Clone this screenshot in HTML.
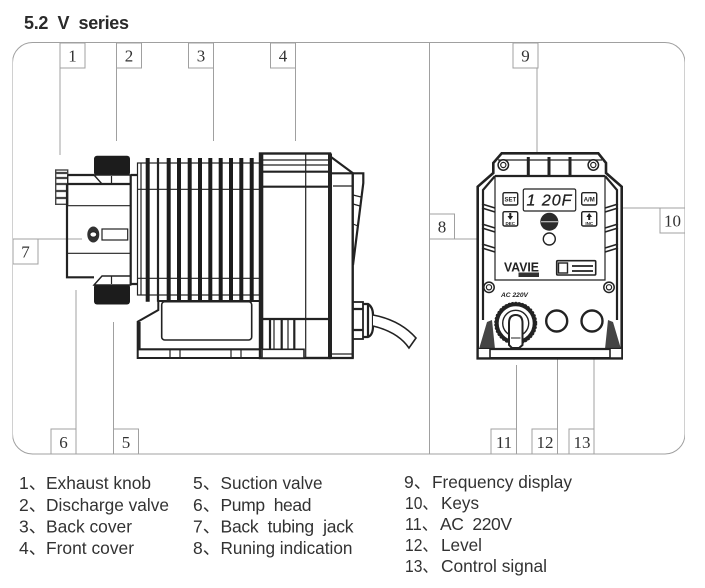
<!DOCTYPE html>
<html lang="en">
<head>
<meta charset="utf-8">
<title>5.2 V series</title>
<style>
html,body{margin:0;padding:0;background:#fff;width:705px;height:588px;overflow:hidden}
svg{display:block}
.lb{font-family:"Liberation Serif",serif;font-size:17px;fill:#333;text-anchor:middle}
.lg{font-family:"Liberation Sans","Noto Sans CJK SC",sans-serif;font-size:17.5px;fill:#333}
.box{fill:#fff;stroke:#a0a0a0;stroke-width:1}
.ld{stroke:#a0a0a0;stroke-width:1;fill:none}
.k{fill:none;stroke:#222;stroke-width:1.2}
.t{fill:none;stroke:#222;stroke-width:2.2}
.b{fill:none;stroke:#1c1c1c;stroke-width:4}
</style>
</head>
<body>
<svg width="705" height="588" viewBox="0 0 705 588" xmlns="http://www.w3.org/2000/svg">
<defs><filter id="soft" x="0" y="0" width="100%" height="100%"><feGaussianBlur stdDeviation="0.35"/></filter></defs>
<rect width="705" height="588" fill="#fff"/>
<g filter="url(#soft)">
<text x="24" y="29" font-family="Liberation Sans, sans-serif" font-weight="bold" font-size="18" fill="#2a2a2a" textLength="105" lengthAdjust="spacing" xml:space="preserve">5.2  V  series</text>

<!-- frame -->
<rect x="12.5" y="42.5" width="672.5" height="411.5" rx="20" ry="20" fill="#fff" stroke="#a0a0a0" stroke-width="1"/>

<!-- leaders -->
<path class="ld" d="M60 68V155M116.5 68V141M213.5 68V141M295.5 68V141M76 290V429M113.5 322V429M38 239H82M429.5 43V454M454 239H537M537 68V183M597 208H660M516.5 365V429M557.5 344V429M594 344V429"/>

<!-- label boxes -->
<rect class="box" x="60" y="43" width="25" height="25"/><text class="lb" x="72.5" y="61.5">1</text>
<rect class="box" x="116.5" y="43" width="25" height="25"/><text class="lb" x="129" y="61.5">2</text>
<rect class="box" x="188.5" y="43" width="25" height="25"/><text class="lb" x="201" y="61.5">3</text>
<rect class="box" x="270.5" y="43" width="25" height="25"/><text class="lb" x="283" y="61.5">4</text>
<rect class="box" x="51" y="429" width="25" height="25"/><text class="lb" x="63.5" y="448">6</text>
<rect class="box" x="113.5" y="429" width="25" height="25"/><text class="lb" x="126" y="448">5</text>
<rect class="box" x="13" y="239" width="25" height="25"/><text class="lb" x="25.5" y="257.5">7</text>
<rect class="box" x="429.5" y="214" width="25" height="25"/><text class="lb" x="442" y="232.5">8</text>
<rect class="box" x="513" y="43" width="25" height="25"/><text class="lb" x="525.5" y="61.5">9</text>
<rect class="box" x="660" y="208" width="25" height="25"/><text class="lb" x="672.5" y="226.5">10</text>
<rect class="box" x="491" y="429" width="25.5" height="25"/><text class="lb" x="504" y="448">11</text>
<rect class="box" x="532" y="429" width="25.5" height="25"/><text class="lb" x="545" y="448">12</text>
<rect class="box" x="569" y="429" width="25" height="25"/><text class="lb" x="582" y="448">13</text>

<!-- side view: fins -->
<rect x="137.5" y="163" width="122" height="132" fill="#fff" stroke="#222" stroke-width="1.2"/>
<path class="k" d="M137.5 189.3H260M137.5 278.3H260M141 163V295"/>
<path class="b" d="M147.7 158V301.7M168.7 158V301.7M179 158V301.7M189.7 158V301.7M200 158V301.7M220.7 158V301.7M231 158V301.7M241.3 158V301.7M251.7 158V301.7M210.3 158V301.7"/>
<path class="t" stroke-width="3" d="M158 158V301.7"/>

<!-- side view: valves -->
<rect x="94" y="155.7" width="36" height="20" rx="3" fill="#1c1c1c"/>
<rect x="94" y="284" width="36" height="20.5" rx="3" fill="#1c1c1c"/>
<path d="M94 175L102 184H130.7V175Z" fill="#fff" stroke="#222" stroke-width="1.4"/>
<path d="M94 285L102 276H130.7V285Z" fill="#fff" stroke="#222" stroke-width="1.4"/>
<path class="k" d="M111.5 176V184M111.5 276V284"/>

<!-- side view: head -->
<rect x="55.7" y="170" width="12" height="34.3" fill="#fff" stroke="#444" stroke-width="1.4"/>
<path d="M56 173H67M56 178H67M56 184H67M56 191H67M56 198H67" stroke="#444" stroke-width="2.2"/>
<path class="t" fill="none" d="M67.7 175H94M67.7 184H130.7M67 184V277.3H94M130.7 175V285M130.7 175H137M130.7 284H137"/>
<path class="k" d="M67 205.7H130.7M68 253.3H130.7M67.7 175V184M67 270V277"/>
<ellipse cx="93.3" cy="234.5" rx="6" ry="8" fill="#333"/>
<ellipse cx="93.3" cy="234.5" rx="3.4" ry="2.6" fill="#fff" stroke="#222" stroke-width="1"/>
<rect x="102" y="229" width="25.7" height="11" fill="#fff" stroke="#222" stroke-width="1.2"/>

<!-- side view: base -->
<path d="M137.7 358V321.7L158.3 310V301H260V358Z" fill="#fff" stroke="#222" stroke-width="2"/>
<path class="t" d="M137.7 349.3H304M139.5 322V349"/>
<rect x="161.7" y="301.7" width="90" height="38.3" rx="3" fill="#fff" stroke="#222" stroke-width="1.6"/>
<path class="k" d="M170 349V358M180 349V358M231 349V358M241 349V358" stroke-width="1.8"/>

<!-- side view: front cover -->
<rect x="260" y="153.5" width="70" height="204.5" fill="#fff" stroke="#222" stroke-width="2.4"/>
<path class="k" d="M260 160H330M260 165H330M305.7 153.5V358"/>
<path class="t" d="M260 171.7H330M260 186.7H330M260 319H352.7"/>
<path d="M261.7 153.5V349.3" stroke="#222" stroke-width="3.2"/>
<path d="M270 319V349M281.7 319V349M294.3 319V349" stroke="#222" stroke-width="2.2"/>
<path class="k" d="M274 319V349M288 319V349"/>
<path d="M262 349.3H304V358H262Z" fill="#fff" stroke="#222" stroke-width="1.6"/>
<path d="M330 157V358H352.7V173L331 157" fill="#fff" stroke="#222" stroke-width="2.2"/>
<path d="M330 153.5V358" stroke="#222" stroke-width="4"/>
<path class="t" d="M332 173.3H363.3V183L353 265M352.7 173V358"/>
<path class="k" d="M333 186H352M353 195L361 197M353 204L360 206M353 224L358 226M332 354H352"/>

<!-- gland + cable -->
<rect x="353" y="302" width="10" height="37" fill="#fff" stroke="#222" stroke-width="1.8"/>
<path class="t" stroke-width="1.8" d="M363 304H368Q373 307 373 315V326Q373 335 368 337H363M368 304V337M353 309H363M353 330H363"/>
<path d="M373 315Q400 320 416 338L409 348Q398 332 373 326" fill="#fff" stroke="#222" stroke-width="1.6"/>

<!-- front view: housing -->
<path d="M501.7 153.3H598.3L606 163V173L621.7 186.7V358.3H477.7V186.7L493.3 173V163Z" fill="#fff" stroke="#222" stroke-width="2.6"/>
<path class="t" stroke-width="2.6" d="M495 176H605M495 176L483 190V320M605 176L617 190V320"/>
<path class="k" d="M495 176V280H605V176M498 160H602"/>
<path d="M528.3 157V175M549 157V175M570 157V175" stroke="#222" stroke-width="3"/>
<path d="M482 204L495 208M482 208L495 212M482 224L495 228M482 228L495 232M482 244L495 248M482 248L495 252M618 204L605 208M618 208L605 212M618 224L605 228M618 228L605 232M618 244L605 248M618 248L605 252" stroke="#222" stroke-width="1.6"/>
<g fill="#fff" stroke="#222">
<circle cx="503.3" cy="165" r="5.2" stroke-width="1.5"/><circle cx="503.3" cy="165" r="2.6" stroke-width="1.2"/>
<circle cx="593.3" cy="165" r="5.2" stroke-width="1.5"/><circle cx="593.3" cy="165" r="2.6" stroke-width="1.2"/>
<circle cx="489" cy="287.3" r="5.2" stroke-width="1.5"/><circle cx="489" cy="287.3" r="2.6" stroke-width="1.2"/>
<circle cx="609" cy="287.3" r="5.2" stroke-width="1.5"/><circle cx="609" cy="287.3" r="2.6" stroke-width="1.2"/>
</g>
<path d="M479 349L487 322L492 320L495 349Z M621 349L613 322L608 320L605 349Z" fill="#444"/>
<path class="t" d="M478 349H622"/>
<path d="M478 349V358H490V349M622 349V358H610V349" fill="#fff" stroke="#222" stroke-width="1.6"/>

<!-- front view: controls -->
<rect x="523.3" y="189" width="52.4" height="22" rx="1.5" fill="#fff" stroke="#222" stroke-width="1.2"/>
<text x="549.5" y="205.5" text-anchor="middle" font-family="Liberation Sans, sans-serif" font-style="italic" font-size="16" letter-spacing="1" fill="#222" stroke="#222" stroke-width="0.3" xml:space="preserve">1 20F</text>
<rect x="503" y="192.7" width="14.7" height="12.3" rx="1.5" fill="#fff" stroke="#222" stroke-width="1.4"/>
<text x="510.3" y="201.5" text-anchor="middle" font-family="Liberation Sans, sans-serif" font-weight="bold" font-size="6" fill="#222">SET</text>
<rect x="581.7" y="192.7" width="15" height="12.3" rx="1.5" fill="#fff" stroke="#222" stroke-width="1.4"/>
<text x="589.2" y="201.5" text-anchor="middle" font-family="Liberation Sans, sans-serif" font-weight="bold" font-size="6" fill="#222">A/M</text>
<rect x="503" y="211.7" width="14.7" height="14.3" rx="1.5" fill="#fff" stroke="#222" stroke-width="1.4"/>
<path d="M510.3 220L507.5 216H509.3V213H511.3V216H513.1Z" fill="#222"/>
<text x="510.3" y="225" text-anchor="middle" font-family="Liberation Sans, sans-serif" font-weight="bold" font-size="4.5" fill="#222">DEC</text>
<rect x="581.7" y="211.7" width="15" height="14.3" rx="1.5" fill="#fff" stroke="#222" stroke-width="1.4"/>
<path d="M589.2 213L592 217H590.2V220H588.2V217H586.4Z" fill="#222"/>
<text x="589.2" y="225" text-anchor="middle" font-family="Liberation Sans, sans-serif" font-weight="bold" font-size="4.5" fill="#222">INC</text>
<circle cx="549.3" cy="221.7" r="9" fill="#2a2a2a"/>
<path d="M541 221.7H558" stroke="#ddd" stroke-width="1"/>
<circle cx="549.3" cy="239" r="6" fill="#fff" stroke="#222" stroke-width="1.4"/>
<text x="504" y="271.5" font-family="Liberation Sans, sans-serif" font-weight="bold" font-size="13" fill="#222" textLength="35" lengthAdjust="spacingAndGlyphs">VAVIE</text>
<rect x="518.5" y="272.5" width="20.5" height="4.5" fill="#333"/>
<rect x="556.7" y="260.7" width="39" height="14.3" rx="1" fill="#fff" stroke="#222" stroke-width="1.6"/>
<rect x="558.5" y="263" width="9" height="10" fill="#fff" stroke="#222" stroke-width="1.4"/>
<path d="M572 266H593M572 271H593" stroke="#222" stroke-width="1.8"/>
<text x="501" y="297" font-family="Liberation Sans, sans-serif" font-weight="bold" font-style="italic" font-size="6.5" fill="#222" textLength="27" lengthAdjust="spacingAndGlyphs">AC 220V</text>

<!-- front view: knob and ports -->
<circle cx="515.7" cy="323.3" r="19" fill="#fff" stroke="#222" stroke-width="4"/>
<circle cx="515.7" cy="323.3" r="21" fill="none" stroke="#222" stroke-width="1" stroke-dasharray="2 1.5"/>
<circle cx="515.7" cy="323.3" r="13" fill="#fff" stroke="#222" stroke-width="1.4"/>
<path d="M509 345V323Q509 315 515.7 315Q522.5 315 522.5 323V345L519 348H512Z" fill="#fff" stroke="#222" stroke-width="2"/>
<path d="M511 338H520.5" stroke="#222" stroke-width="1"/>
<circle cx="556.7" cy="321" r="10.5" fill="#fff" stroke="#222" stroke-width="2.4"/>
<circle cx="592" cy="321" r="10.5" fill="#fff" stroke="#222" stroke-width="2.4"/>

<!-- legend -->
<text class="lg" x="19" y="489">1、</text><text class="lg" x="46" y="489" textLength="105" lengthAdjust="spacingAndGlyphs">Exhaust knob</text>
<text class="lg" x="19" y="511">2、</text><text class="lg" x="46" y="511" textLength="123" lengthAdjust="spacingAndGlyphs">Discharge valve</text>
<text class="lg" x="19" y="532.5">3、</text><text class="lg" x="46" y="532.5" textLength="86" lengthAdjust="spacingAndGlyphs">Back cover</text>
<text class="lg" x="19" y="554">4、</text><text class="lg" x="46" y="554" textLength="88" lengthAdjust="spacingAndGlyphs">Front cover</text>

<text class="lg" x="193" y="489">5、</text><text class="lg" x="220.5" y="489" textLength="102" lengthAdjust="spacingAndGlyphs">Suction valve</text>
<text class="lg" x="193" y="511">6、</text><text class="lg" x="220.5" y="511" textLength="91" lengthAdjust="spacing" xml:space="preserve">Pump  head</text>
<text class="lg" x="193" y="532.5">7、</text><text class="lg" x="220.5" y="532.5" textLength="133" lengthAdjust="spacing" xml:space="preserve">Back  tubing  jack</text>
<text class="lg" x="193" y="554">8、</text><text class="lg" x="220.5" y="554" textLength="132" lengthAdjust="spacingAndGlyphs">Runing indication</text>

<text class="lg" x="404" y="488">9、</text><text class="lg" x="432" y="488" textLength="140" lengthAdjust="spacingAndGlyphs">Frequency display</text>
<text class="lg" x="405" y="509" textLength="33" lengthAdjust="spacingAndGlyphs">10、</text><text class="lg" x="441" y="509" textLength="38" lengthAdjust="spacingAndGlyphs">Keys</text>
<text class="lg" x="405" y="530" textLength="33" lengthAdjust="spacingAndGlyphs">11、</text><text class="lg" x="440" y="530" textLength="72" lengthAdjust="spacing" xml:space="preserve">AC  220V</text>
<text class="lg" x="405" y="551" textLength="33" lengthAdjust="spacingAndGlyphs">12、</text><text class="lg" x="441" y="551" textLength="41" lengthAdjust="spacingAndGlyphs">Level</text>
<text class="lg" x="405" y="572" textLength="33" lengthAdjust="spacingAndGlyphs">13、</text><text class="lg" x="441" y="572" textLength="106" lengthAdjust="spacingAndGlyphs">Control signal</text>
</g>
</svg>
</body>
</html>
